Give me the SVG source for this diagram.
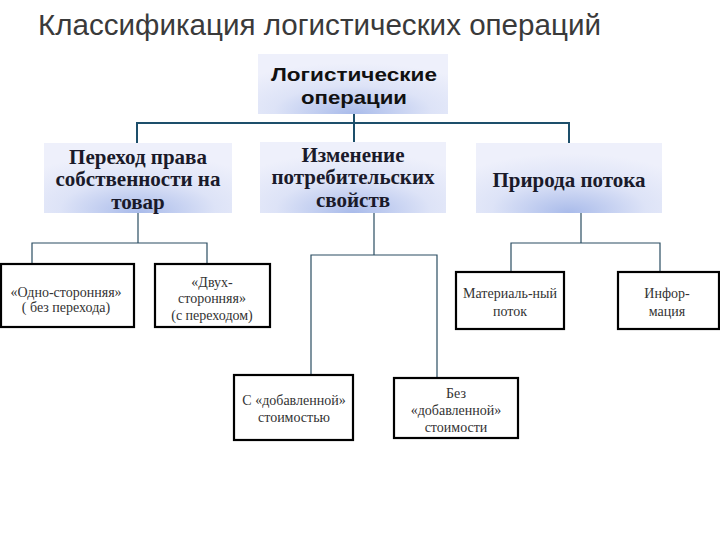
<svg xmlns="http://www.w3.org/2000/svg" width="720" height="540" viewBox="0 0 720 540">
<defs>
<radialGradient id="g" cx="0.5" cy="0.9" r="0.75" fx="0.5" fy="1">
<stop offset="0" stop-color="#a9bbea"/>
<stop offset="0.55" stop-color="#dde3f7"/>
<stop offset="1" stop-color="#eef0fb"/>
</radialGradient>
<style>
.title{font-family:"Liberation Sans",Arial,sans-serif;font-size:29px;fill:#3a3a3a}
.top{fill:url(#g)}
.ts{font-family:"Liberation Sans",Arial,sans-serif;font-size:19px;font-weight:bold;fill:#111;text-anchor:middle}
.tb{font-family:"Liberation Serif","Times New Roman","DejaVu Serif",serif;font-size:21px;font-weight:bold;fill:#1a1a2a;text-anchor:middle}
.box{fill:#fff;stroke:#000;stroke-width:2.2}
.tn{font-family:"Liberation Serif","Times New Roman","DejaVu Serif",serif;font-size:14px;fill:#333;text-anchor:middle}
.c1{fill:none;stroke:#1d4f6b;stroke-width:2}
.c2{fill:none;stroke:#2a4d62;stroke-width:1.2}
</style>
</defs>
<rect width="720" height="540" fill="#fff"/>
<text class="title" x="38" y="35" textLength="563" lengthAdjust="spacingAndGlyphs">Классификация логистических операций</text>
<g id="connectors">
<path class="c1" d="M354 114 V142 M137 143 V123 H569 V143"/>
<path class="c2" d="M138 213 V243 M32 264 V243 H207 V264"/>
<path class="c2" d="M374 213 V255 M311 375 V255 H437 V378"/>
<path class="c2" d="M581 213 V243 M511 272 V243 H660 V272"/>
</g>
<g id="root">
<rect class="top" x="258" y="54" width="190" height="60"/>
<text class="ts" x="354" y="81" textLength="166" lengthAdjust="spacingAndGlyphs">Логистические</text>
<text class="ts" x="354" y="104" textLength="106" lengthAdjust="spacingAndGlyphs">операции</text>
</g>
<g id="n-ownership">
<rect class="top" x="44" y="143" width="188" height="70"/>
<text class="tb" x="138" y="164">Переход права</text>
<text class="tb" x="138" y="186">собственности на</text>
<text class="tb" x="138" y="209">товар</text>
</g>
<g id="n-consumer">
<rect class="top" x="260" y="142" width="186" height="71"/>
<text class="tb" x="353" y="162">Изменение</text>
<text class="tb" x="353" y="184">потребительских</text>
<text class="tb" x="353" y="207">свойств</text>
</g>
<g id="n-nature">
<rect class="top" x="476" y="143" width="186" height="70"/>
<text class="tb" x="569" y="187">Природа потока</text>
</g>
<g id="n-one">
<rect class="box" x="1" y="264" width="133" height="63"/>
<text class="tn" x="66" y="297">«Одно-сторонняя»</text>
<text class="tn" x="66" y="312">( без перехода)</text>
</g>
<g id="n-two">
<rect class="box" x="155" y="264" width="115" height="63"/>
<text class="tn" x="212" y="287">«Двух-</text>
<text class="tn" x="212" y="303">сторонняя»</text>
<text class="tn" x="212" y="320">(с переходом)</text>
</g>
<g id="n-with">
<rect class="box" x="234" y="375" width="119" height="65"/>
<text class="tn" x="294" y="405">С «добавленной»</text>
<text class="tn" x="294" y="422">стоимостью</text>
</g>
<g id="n-without">
<rect class="box" x="394" y="378" width="124" height="60"/>
<text class="tn" x="456" y="398">Без</text>
<text class="tn" x="456" y="415">«добавленной»</text>
<text class="tn" x="456" y="432">стоимости</text>
</g>
<g id="n-material">
<rect class="box" x="456" y="272" width="108" height="57"/>
<text class="tn" x="510" y="298">Материаль-ный</text>
<text class="tn" x="510" y="316">поток</text>
</g>
<g id="n-info">
<rect class="box" x="618" y="272" width="101" height="57"/>
<text class="tn" x="667" y="298">Инфор-</text>
<text class="tn" x="667" y="316">мация</text>
</g>
</svg>
